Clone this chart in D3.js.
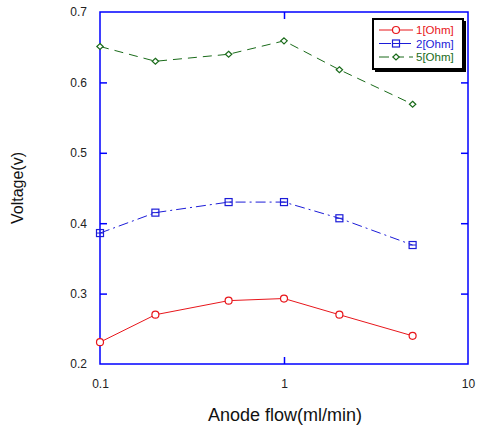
<!DOCTYPE html>
<html><head><meta charset="utf-8">
<script src="https://cdn.jsdelivr.net/npm/d3@7"></script>
<style>body{margin:0;background:#fff}svg{display:block}</style>
</head><body>
<script>
const flows = [0.1, 0.2, 0.5, 1, 2, 5];
const ohm1 = [0.231, 0.270, 0.290, 0.293, 0.270, 0.240];
const ohm2 = [0.386, 0.415, 0.430, 0.430, 0.407, 0.369];
const ohm5 = [0.651, 0.630, 0.640, 0.659, 0.618, 0.569];
const seriesNames = ["1[Ohm]", "2[Ohm]", "5[Ohm]"];
const xTicks = [0.1, 1, 10];
const yTicks = [0.2, 0.3, 0.4, 0.5, 0.6, 0.7];

const W = 480, H = 427;
const L = 100, R = 468, T = 12, B = 364;
const svg = d3.select("body").append("svg").attr("width", W).attr("height", H);
const x = d3.scaleLog().domain([0.1, 10]).range([L, R]);
const y = d3.scaleLinear().domain([0.2, 0.7]).range([B, T]);
const axisColor = "#0000ff";
const font = "Arial, 'Liberation Sans', sans-serif";

// frame
svg.append("rect").attr("x", L).attr("y", T).attr("width", R - L).attr("height", B - T)
  .attr("fill", "none").attr("stroke", axisColor).attr("stroke-width", 1.5);

// axes with inward ticks
const tl = 7;
const gb = svg.append("g").attr("transform", `translate(0,${B})`)
  .call(d3.axisBottom(x).tickValues(xTicks).tickFormat(d3.format("")).tickSizeInner(-tl).tickSizeOuter(0).tickPadding(tl + 8));
const gt = svg.append("g").attr("transform", `translate(0,${T})`)
  .call(d3.axisTop(x).tickValues([1]).tickFormat("").tickSizeInner(-tl).tickSizeOuter(0));
const gl = svg.append("g").attr("transform", `translate(${L},0)`)
  .call(d3.axisLeft(y).tickValues(yTicks).tickFormat(d3.format(".1f")).tickSizeInner(-tl).tickSizeOuter(0).tickPadding(tl + 6));
const gr = svg.append("g").attr("transform", `translate(${R},0)`)
  .call(d3.axisRight(y).tickValues(yTicks.slice(1, -1)).tickFormat("").tickSizeInner(-tl).tickSizeOuter(0));
[gb, gt, gl, gr].forEach(g => {
  g.select(".domain").remove();
  g.selectAll(".tick line").attr("stroke", axisColor).attr("stroke-width", 1.5);
  g.selectAll("text").attr("fill", "#222").style("font-family", font).style("font-size", "12px");
});
gl.selectAll(".tick").filter(d => d === 0.2 || d === 0.7).select("line").remove();
gb.selectAll(".tick").filter(d => d === 0.1 || d === 10).select("line").remove();

// axis labels
svg.append("text").attr("x", 285).attr("y", 421).attr("text-anchor", "middle")
  .style("font-family", font).style("font-size", "18px").attr("fill", "#111").text("Anode flow(ml/min)");
svg.append("text").attr("transform", "translate(23,188) rotate(-90)").attr("text-anchor", "middle")
  .style("font-family", font).style("font-size", "16px").attr("fill", "#111").text("Voltage(v)");

const series = [
  {name: seriesNames[0], vals: ohm1, color: "#e8161b", dash: null, marker: "circle"},
  {name: seriesNames[1], vals: ohm2, color: "#1c1cd8", dash: "10,4,2,4", marker: "square"},
  {name: seriesNames[2], vals: ohm5, color: "#1a6b1a", dash: "9,6", marker: "diamond"}
];

function drawMarker(g, type, cx, cy, color) {
  if (type === "circle") {
    g.append("circle").attr("cx", cx).attr("cy", cy).attr("r", 3.5)
      .attr("fill", "#fff").attr("stroke", color).attr("stroke-width", 1.2);
  } else if (type === "square") {
    g.append("rect").attr("x", cx - 3.5).attr("y", cy - 3.5).attr("width", 7).attr("height", 7)
      .attr("fill", "none").attr("stroke", color).attr("stroke-width", 1.2);
    g.append("line").attr("x1", cx - 3.5).attr("x2", cx + 3.5).attr("y1", cy).attr("y2", cy)
      .attr("stroke", color).attr("stroke-width", 1);
  } else {
    g.append("path").attr("d", `M${cx},${cy - 3}L${cx + 3.2},${cy}L${cx},${cy + 3}L${cx - 3.2},${cy}Z`)
      .attr("fill", "#fff").attr("stroke", color).attr("stroke-width", 1.2);
  }
}

const line = d3.line().x(d => x(d[0])).y(d => y(d[1]));
series.forEach(s => {
  const pts = flows.map((f, i) => [f, s.vals[i]]);
  svg.append("path").attr("d", line(pts)).attr("fill", "none").attr("stroke", s.color)
    .attr("stroke-width", 1).attr("stroke-dasharray", s.dash);
  const g = svg.append("g");
  pts.forEach(p => drawMarker(g, s.marker, x(p[0]), y(p[1]), s.color));
});

// legend
const lg = svg.append("g");
lg.append("rect").attr("x", 375).attr("y", 21).attr("width", 91).attr("height", 51).attr("fill", "#000");
lg.append("rect").attr("x", 373).attr("y", 19).attr("width", 90).attr("height", 50)
  .attr("fill", "#fff").attr("stroke", "#000").attr("stroke-width", 2);
series.forEach((s, i) => {
  const ly = 30 + i * 13.5;
  lg.append("line").attr("x1", 379).attr("x2", 413).attr("y1", ly).attr("y2", ly)
    .attr("stroke", s.color).attr("stroke-width", 1)
    .attr("stroke-dasharray", s.dash ? (i === 1 ? "12,3,2,3" : "10,5") : null);
  drawMarker(lg, s.marker, 396, ly, s.color);
  lg.append("text").attr("x", 416).attr("y", ly + 4).attr("fill", s.color)
    .style("font-family", font).style("font-size", "11.5px").text(s.name);
});
</script>
</body></html>
